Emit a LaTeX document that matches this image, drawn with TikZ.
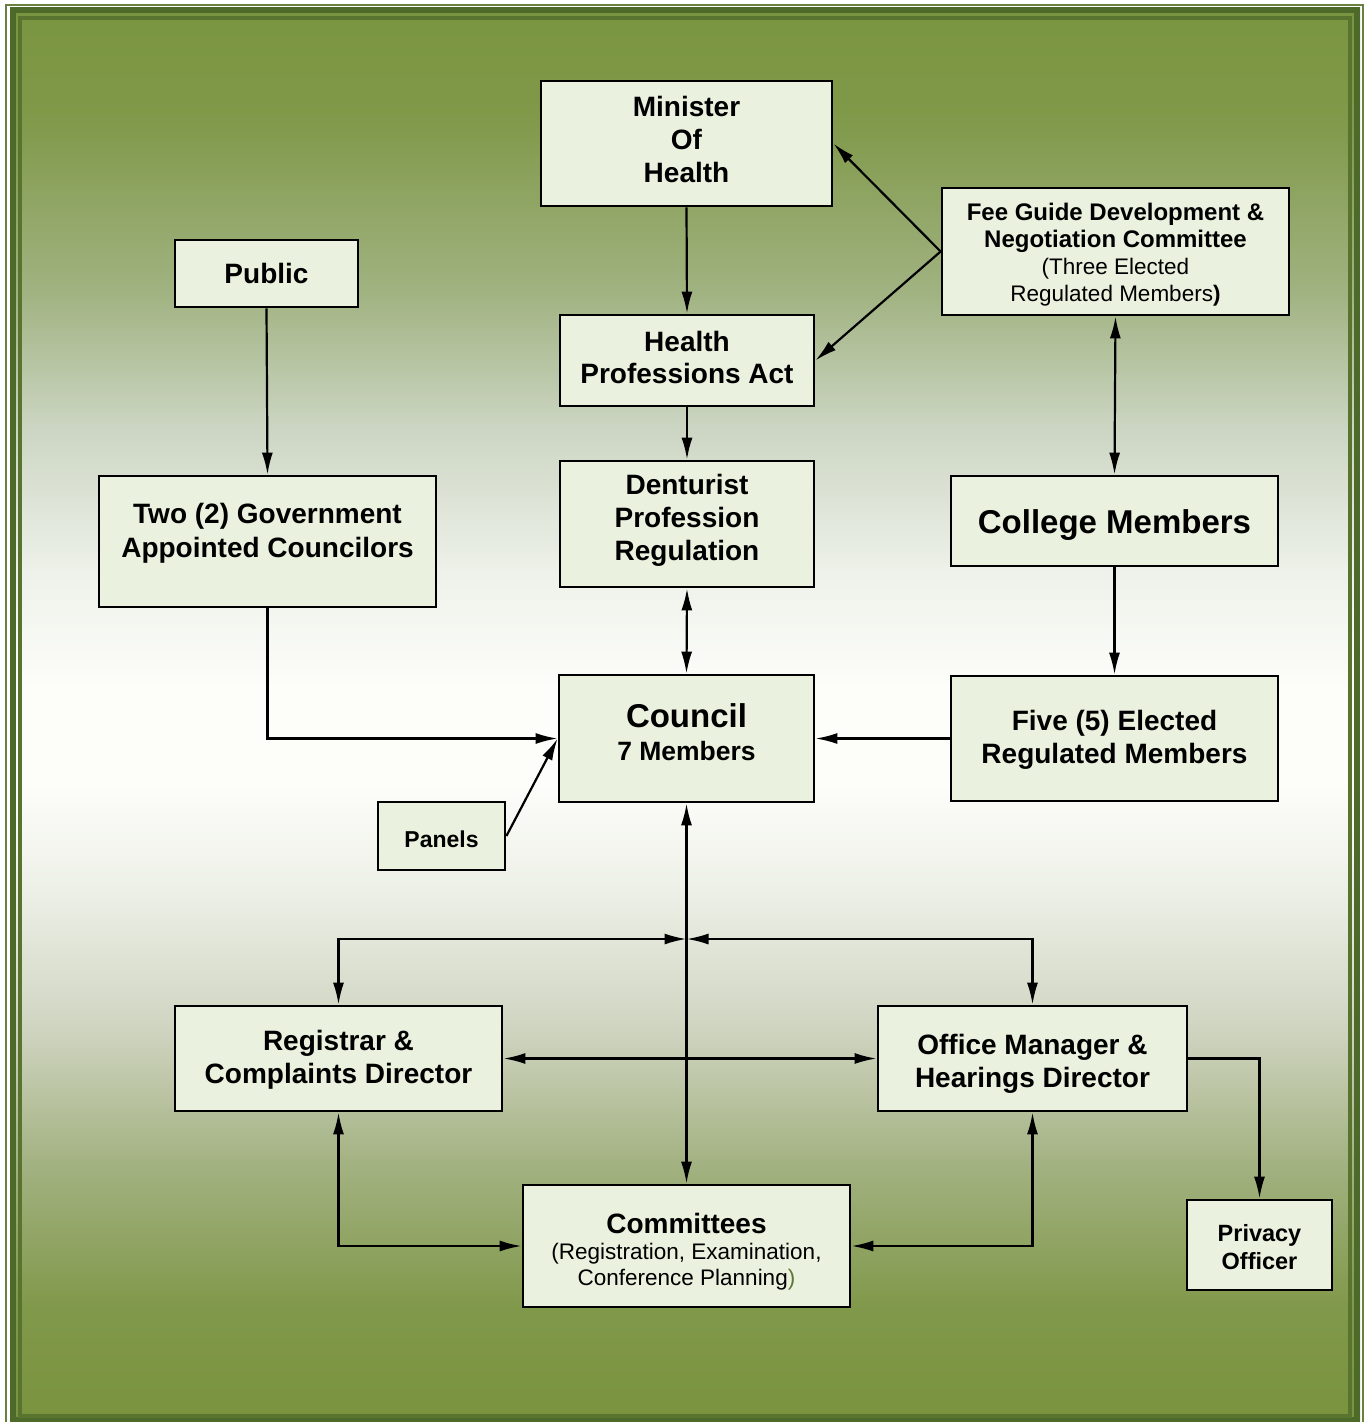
\documentclass[tikz,border=0pt]{standalone}
\usepackage{fontspec}
\setmainfont{Liberation Sans}
\usetikzlibrary{arrows.meta}
\definecolor{gtop}{RGB}{122,149,64}
\definecolor{gA}{RGB}{128,153,74}
\definecolor{gB}{RGB}{160,178,128}
\definecolor{gC}{RGB}{205,214,196}
\definecolor{gD}{RGB}{238,242,234}
\definecolor{gW}{RGB}{253,253,250}
\definecolor{gE}{RGB}{238,241,232}
\definecolor{gF}{RGB}{208,213,194}
\definecolor{gG}{RGB}{162,177,128}
\definecolor{gH}{RGB}{128,152,74}
\definecolor{gbot}{RGB}{122,147,62}
\definecolor{darkc}{RGB}{78,106,42}
\definecolor{innerc}{RGB}{88,116,46}
\definecolor{outerc}{RGB}{104,128,66}
\definecolor{boxfill}{RGB}{234,241,222}
\definecolor{olivep}{RGB}{96,120,50}
\pgfdeclareverticalshading{bgshade}{100bp}{color(0bp)=(gbot); color(25bp)=(gbot); color(29bp)=(gH); color(34bp)=(gG); color(39bp)=(gF); color(44bp)=(gE); color(47.5bp)=(gW); color(51bp)=(gW); color(55bp)=(gD); color(60bp)=(gC); color(65bp)=(gB); color(71bp)=(gA); color(75bp)=(gtop); color(100bp)=(gtop)}
\tikzset{
  box/.style={draw=black, fill=boxfill, line width=2.8pt, rectangle, inner sep=0pt},
  txt/.style={align=center, inner sep=0pt, font=\bfseries\fontsize{28}{33}\selectfont},
  arr/.style={-{Latex[length=22pt,width=11pt]}, line width=2.2pt},
  dbl/.style={{Latex[length=22pt,width=11pt]}-{Latex[length=22pt,width=11pt]}, line width=2.2pt}
}
\begin{document}
\begin{tikzpicture}[x=1pt,y=-1pt]
\useasboundingbox (0,0) rectangle (1366,1422);
\clip (0,0) rectangle (1366,1422);
\fill[white] (0,0) rectangle (1366,1422);
\shade[shading=bgshade] (10,7) rectangle (1360,1422);
\draw[outerc, line width=2pt] (6,4.5) rectangle (1362.5,1430);
\draw[darkc, line width=6pt] (13,10) rectangle (1357,1420);
\draw[innerc, line width=4pt] (20,18) rectangle (1350,1415.5);

% boxes
\node[box, minimum width=291pt, minimum height=125pt] (mini) at (686.5,143.5) {};
\node[box, minimum width=347pt, minimum height=127pt] (fee) at (1115.5,251.5) {};
\node[box, minimum width=183pt, minimum height=67pt] (pub) at (266.5,273.5) {};
\node[box, minimum width=254pt, minimum height=91pt] (hpa) at (687,360.5) {};
\node[box, minimum width=337pt, minimum height=131pt] (gov) at (267.5,541.5) {};
\node[box, minimum width=254pt, minimum height=126pt] (dent) at (687,524) {};
\node[box, minimum width=327pt, minimum height=90pt] (coll) at (1114.5,521) {};
\node[box, minimum width=255pt, minimum height=127pt] (coun) at (686.5,738.5) {};
\node[box, minimum width=327pt, minimum height=125pt] (five) at (1114.5,738.5) {};
\node[box, minimum width=127pt, minimum height=68pt] (pan) at (441.5,836) {};
\node[box, minimum width=327pt, minimum height=105pt] (reg) at (338.5,1058.5) {};
\node[box, minimum width=309pt, minimum height=105pt] (off) at (1032.5,1058.5) {};
\node[box, minimum width=327pt, minimum height=122pt] (com) at (686.5,1246) {};
\node[box, minimum width=145pt, minimum height=90pt] (priv) at (1259.5,1245) {};

% texts
\node[txt, yshift=4pt] (minit) at (mini) {Minister\\Of\\Health};
\node[txt, yshift=-3pt, font=\bfseries\fontsize{24}{27}\selectfont] (feet) at (fee)
  {Fee Guide Development \&\\Negotiation Committee\\{\mdseries\fontsize{22.5}{27}\selectfont (Three Elected}\\{\mdseries\fontsize{22.5}{27}\selectfont Regulated Members}{\fontsize{22.5}{27}\selectfont )}};
\node[txt] (pubt) at (pub) {Public};
\node[txt, yshift=3.5pt, font=\bfseries\fontsize{28}{32}\selectfont] (hpat) at (hpa) {Health\\Professions Act};
\node[txt, yshift=8pt, font=\bfseries\fontsize{28}{34}\selectfont] (govt) at (gov) {Two (2) Government\\Appointed Councilors};
\node[txt, yshift=3.5pt] (dentt) at (dent) {Denturist\\Profession\\Regulation};
\node[txt, yshift=-4pt, font=\bfseries\fontsize{33}{38}\selectfont] (collt) at (coll) {College Members};
\node[txt, yshift=6.5pt, font=\bfseries\fontsize{26.5}{33}\selectfont] (count) at (coun) {{\fontsize{33}{35}\selectfont Council}\\7 Members};
\node[txt, yshift=-1pt] (fivet) at (five) {Five (5) Elected\\Regulated Members};
\node[txt, yshift=-3pt, font=\bfseries\fontsize{23}{28}\selectfont] (pant) at (pan) {Panels};
\node[txt, yshift=-1pt] (regt) at (reg) {Registrar \&\\Complaints Director};
\node[txt, yshift=-5pt] (offt) at (off) {Office Manager \&\\Hearings Director};
\node[txt, yshift=-5.5pt, font=\mdseries\fontsize{22.5}{26}\selectfont] (comt) at (com)
  {{\bfseries\fontsize{28}{31}\selectfont Committees}\\(Registration, Examination,\\Conference Planning{\color{olivep})}};
\node[txt, yshift=-2pt, font=\bfseries\fontsize{23.5}{28}\selectfont] (privt) at (priv) {Privacy\\Officer};

\coordinate (ctr) at (686.5,939);

\draw[arr] (mini.south) -- (hpa.north);
\draw[arr] (fee.west) -- (mini.east);
\draw[arr] (fee.west) -- (hpa.east);
\draw[arr] (pub.south) -- (gov.north);
\draw[arr] (hpa.south) -- (dent.north);
\draw[dbl] (fee.south) -- (coll.north);
\draw[dbl] (dent.south) -- (coun.north);
\draw[arr] (coll.south) -- (five.north);
\draw[arr] (gov.south) |- (coun.west);
\draw[arr] (five.west) -- (coun.east);
\draw[arr] (pan.east) -- (coun.west);
\draw[dbl] (coun.south) -- (com.north);
\draw[dbl] (reg.north) |- (ctr);
\draw[dbl] (off.north) |- (ctr);
\draw[dbl] (reg.east) -- (off.west);
\draw[dbl] (reg.south) |- (com.west);
\draw[dbl] (off.south) |- (com.east);
\draw[arr] (off.east) -| (priv.north);
\end{tikzpicture}
\end{document}
